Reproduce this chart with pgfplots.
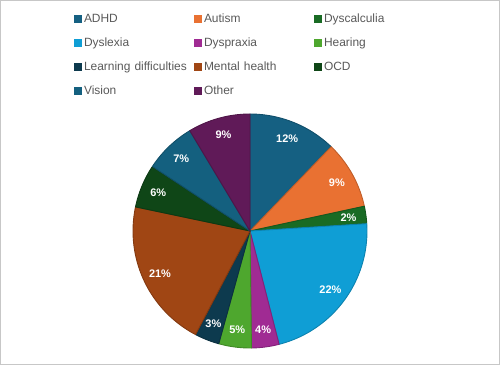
\documentclass[border=0pt]{standalone}
\usepackage{fontspec}
\setmainfont{Liberation Sans}
\usepackage{pgfplots}
\pgfplotsset{compat=1.18}
\definecolor{cADHD}{HTML}{156082}
\definecolor{cAutism}{HTML}{E97132}
\definecolor{cDysc}{HTML}{196B24}
\definecolor{cDyslexia}{HTML}{0F9ED5}
\definecolor{cDyspraxia}{HTML}{A02B93}
\definecolor{cHearing}{HTML}{4EA72E}
\definecolor{cLD}{HTML}{0D3A4E}
\definecolor{cMH}{HTML}{A04614}
\definecolor{cOCD}{HTML}{0F4617}
\definecolor{cVision}{HTML}{14607F}
\definecolor{cOther}{HTML}{601A58}
\definecolor{legtext}{HTML}{595959}
\newcommand{\labelfont}{\fontsize{11}{13}\selectfont\bfseries}
\def\cum{90}
% \slice{value in percent}{colour}{label}
\newcommand{\slice}[3]{%
  \pgfmathsetmacro{\sa}{\cum}%
  \pgfmathsetmacro{\sb}{\cum-3.6*#1}%
  \pgfmathsetmacro{\sm}{(\sa+\sb)/2}%
  \edef\temp{%
    \noexpand\addplot[fill=#2, draw=#2!82!black, line width=0.9bp, line join=round, domain=\sb:\sa, samples=60, forget plot] ({x},{1}) -- (axis cs:0,0) -- cycle;
    \noexpand\node[text=white, font=\noexpand\labelfont] at (axis cs:{0.85*cos(\sm)},{0.85*sin(\sm)}) {#3};
  }%
  \temp
  \xdef\cum{\sb}%
}
\begin{document}
\begin{tikzpicture}
\useasboundingbox (0,0) rectangle (500bp,365bp);
\draw[color=black!22, line width=0.8bp] (0.4bp,0.4bp) rectangle (499.6bp,364.6bp);
\begin{axis}[
  hide axis,
  data cs=polar,
  x=117bp, y=117bp,
  xmin=-1, xmax=1, ymin=-1, ymax=1,
  anchor=origin, at={(250bp,134bp)},
  clip=false,
  legend columns=3,
  legend cell align=left,
  legend image code/.code={\fill[#1, draw=none] (0bp,-3.5bp) rectangle (7.5bp,4bp);},
  legend style={
    at={(-0.2521,1.4316)}, anchor=north west,
    draw=none, fill=none, inner sep=0pt, outer sep=0pt,
    row sep=12bp,
    font=\fontsize{12}{14}\selectfont, text=legtext,
    nodes={inner sep=0pt, text width=106bp, text height=9bp, text depth=3bp, align=left},
    /tikz/every odd column/.style={column sep=2.5bp},
    /tikz/every even column/.style={column sep=4bp},
  },
]
\slice{12.2}{cADHD}{12\%}
\slice{9.4}{cAutism}{9\%}
\slice{2.4}{cDysc}{2\%}
\slice{22.0}{cDyslexia}{22\%}
\slice{3.8}{cDyspraxia}{4\%}
\slice{4.5}{cHearing}{5\%}
\slice{3.4}{cLD}{3\%}
\slice{20.6}{cMH}{21\%}
\slice{6.0}{cOCD}{6\%}
\slice{7.1}{cVision}{7\%}
\slice{8.6}{cOther}{9\%}
\addlegendimage{fill=cADHD}\addlegendentry{ADHD}
\addlegendimage{fill=cAutism}\addlegendentry{Autism}
\addlegendimage{fill=cDysc}\addlegendentry{Dyscalculia}
\addlegendimage{fill=cDyslexia}\addlegendentry{Dyslexia}
\addlegendimage{fill=cDyspraxia}\addlegendentry{Dyspraxia}
\addlegendimage{fill=cHearing}\addlegendentry{Hearing}
\addlegendimage{fill=cLD}\addlegendentry{Learning difficulties}
\addlegendimage{fill=cMH}\addlegendentry{Mental health}
\addlegendimage{fill=cOCD}\addlegendentry{OCD}
\addlegendimage{fill=cVision}\addlegendentry{Vision}
\addlegendimage{fill=cOther}\addlegendentry{Other}
\end{axis}
\end{tikzpicture}
\end{document}
